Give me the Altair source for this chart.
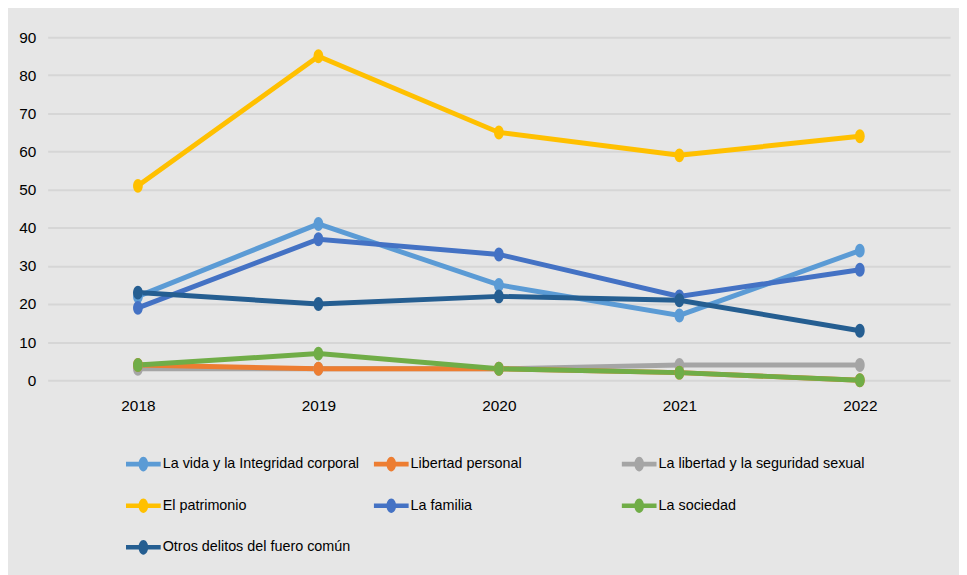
import altair as alt
import pandas as pd

years = ["2018", "2019", "2020", "2021", "2022"]
series = [
    "La vida y la Integridad corporal",
    "Libertad personal",
    "La libertad y la seguridad sexual",
    "El patrimonio",
    "La familia",
    "La sociedad",
    "Otros delitos del fuero común",
]
colors = ["#5B9BD5", "#ED7D31", "#A5A5A5", "#FFC000", "#4472C4", "#70AD47", "#255E91"]
vida = [22, 41, 25, 17, 34]
libertad = [4, 3, 3, 2, 0]
sexual = [3, 3, 3, 4, 4]
patrimonio = [51, 85, 65, 59, 64]
familia = [19, 37, 33, 22, 29]
sociedad = [4, 7, 3, 2, 0]
otros = [23, 20, 22, 21, 13]
values = [vida, libertad, sexual, patrimonio, familia, sociedad, otros]

# drawing order (bottom to top)
draw_order = [0, 2, 1, 3, 4, 5, 6]

rows = []
for rank, i in enumerate(draw_order):
    for y, v in zip(years, values[i]):
        rows.append({"Año": y, "Serie": series[i], "Valor": v, "hex": colors[i], "z": rank})
df = pd.DataFrame(rows)

FONT = "Liberation Sans, Arial, sans-serif"

x = alt.X("Año:O", sort=years, scale=alt.Scale(type="point", padding=0.5), axis=alt.Axis(
    title=None, labelAngle=0, ticks=False, domain=False, labelPadding=19,
    labelFontSize=15.5, labelFont=FONT, labelColor="#000000", grid=False))
y = alt.Y("Valor:Q", scale=alt.Scale(domain=[0, 90], nice=False), axis=alt.Axis(
    title=None, values=list(range(0, 100, 10)), ticks=False, domain=False,
    labelPadding=12, labelFontSize=15.5, labelFont=FONT, labelColor="#000000",
    grid=True, gridColor="#D6D6D6", gridWidth=2))

base = alt.Chart(df)

line_layers = []
for i in draw_order:
    line_layers.append(
        base.transform_filter(alt.datum.Serie == series[i]).mark_line(strokeWidth=5).encode(
            x=x, y=y, color=alt.Color("hex:N", scale=None)
        )
    )

ellipse = "M-0.7,0 A0.7,1 0 1,1 0.7,0 A0.7,1 0 1,1 -0.7,0 Z"
legend_sym = ("M-1,-0.13 L1,-0.13 L1,0.13 L-1,0.13 Z "
              "M-0.28,0 A0.28,0.42 0 1,1 0.28,0 A0.28,0.42 0 1,1 -0.28,0 Z")

points = base.mark_point(filled=True, opacity=1, shape=ellipse, size=196).encode(
    x=x, y=y,
    order=alt.Order("z:Q"),
    color=alt.Color("Serie:N", sort=series, scale=alt.Scale(domain=series, range=colors), legend=alt.Legend(
        title=None, orient="none", legendX=79, legendY=413, columns=3,
        gridAlign="all", columnPadding=5, rowPadding=17,
        symbolType=legend_sym, symbolSize=1225, symbolStrokeWidth=0, symbolOpacity=1,
        labelFont=FONT, labelFontSize=14.5, labelColor="#000000", labelLimit=400,
        labelOffset=2, direction="horizontal")),
)

chart = alt.layer(*line_layers, points).properties(
    width=910, height=346,
    autosize=alt.AutoSizeParams(type="none"),
    padding={"left": 40, "top": 27, "right": 9, "bottom": 194},
    background="#E6E6E6",
).configure_view(stroke=None)

chart.save("out.html", embed_options={"renderer": "svg", "actions": False})
